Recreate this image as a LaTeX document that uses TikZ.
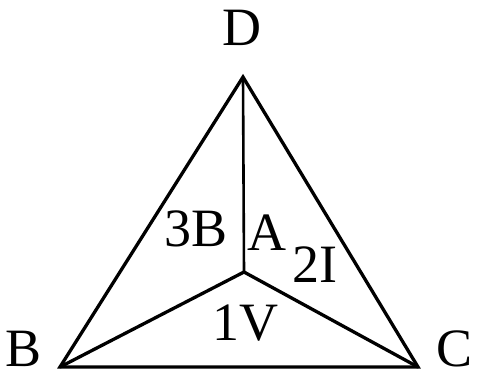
\documentclass[tikz,border=0pt]{standalone}
\usepackage{fontspec}
\setmainfont{Liberation Serif}
\begin{document}
\begin{tikzpicture}[x=1pt,y=-1pt,
  edge/.style={line width=3.3pt,line join=miter,line cap=round},
  inner/.style={line width=2.6pt},
  lbl/.style={font=\fontsize{54}{60}\selectfont,anchor=base,inner sep=0pt}]
\useasboundingbox (0,0) rectangle (477,381);
\coordinate (D) at (243,77);
\coordinate (B) at (60,367);
\coordinate (C) at (418,367);
\coordinate (A) at (244,272);
\draw[edge] (B) -- (C) -- (D) -- cycle;
\draw[edge] (B) -- (A) -- (C);
\draw[inner] (D) -- (A);
\node[lbl] (lD) at (242,45) {D};
\node[lbl] (lB) at (24,366) {B};
\node[lbl] (lC) at (455,366) {C};
\node[lbl] (l3B) at (196,246) {3B};
\node[lbl] (lA) at (267,250) {A};
\node[lbl] (l2I) at (315,282) {2I};
\node[lbl] (l1V) at (245,340) {1V};
\end{tikzpicture}
\end{document}
